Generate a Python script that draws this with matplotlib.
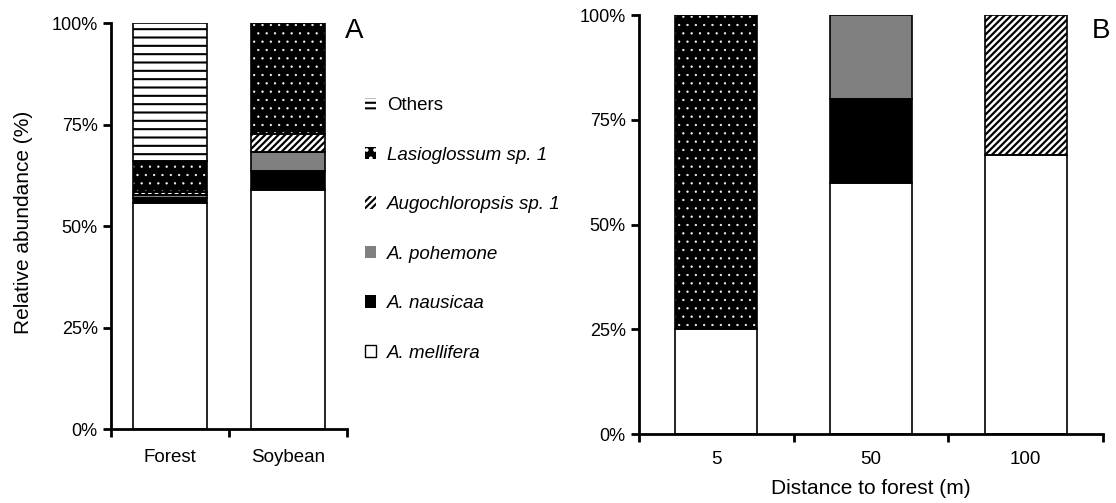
import matplotlib
matplotlib.use("Agg")
import matplotlib.pyplot as plt
import numpy as np
from matplotlib.patches import Patch
from matplotlib.ticker import FixedLocator, PercentFormatter

plt.rcParams['font.family'] = ['Liberation Sans', 'DejaVu Sans']
plt.rcParams['hatch.linewidth'] = 1.5

# species, bottom -> top
species = ['A. mellifera', 'A. nausicaa', 'A. pohemone',
           'Augochloropsis sp. 1', 'Lasioglossum sp. 1', 'Others']

# panel A: habitat
habitats = ['Forest', 'Soybean']
habitat_vals = {
    'A. mellifera':         [55.8, 58.8],
    'A. nausicaa':          [1.0, 4.7],
    'A. pohemone':          [0.8, 4.7],
    'Augochloropsis sp. 1': [0.8, 4.4],
    'Lasioglossum sp. 1':   [7.6, 27.4],
    'Others':               [34.0, 0.0],
}

# panel B: distance to forest
distances = ['5', '50', '100']
distance_vals = {
    'A. mellifera':         [25.0, 60.0, 66.7],
    'A. nausicaa':          [0.0, 20.0, 0.0],
    'A. pohemone':          [0.0, 20.0, 0.0],
    'Augochloropsis sp. 1': [0.0, 0.0, 33.3],
    'Lasioglossum sp. 1':   [75.0, 0.0, 0.0],
    'Others':               [0.0, 0.0, 0.0],
}

# fill style per species: facecolor, hatch colour, hatch, hatch width
styles = {
    'A. mellifera':         ('white', 'black', None, 1.0),
    'A. nausicaa':          ('black', 'black', None, 1.0),
    'A. pohemone':          ('#808080', '#808080', None, 1.0),
    'Augochloropsis sp. 1': ('white', 'black', '/////', 1.6),
    'Lasioglossum sp. 1':   ('black', 'white', '..', 0.4),
    'Others':               ('white', 'black', '--', 1.5),
}


def stacked(ax, cats, vals, width):
    x = np.arange(len(cats))
    bottom = np.zeros(len(cats))
    for sp in species:
        v = np.array(vals[sp])
        fc, hc, h, hw = styles[sp]
        m = v > 0
        with plt.rc_context({'hatch.linewidth': hw}):
            ax.bar(x[m], v[m], width, bottom=bottom[m], color=fc,
                   edgecolor=hc, hatch=h, linewidth=0, zorder=2)
        ax.bar(x[m], v[m], width, bottom=bottom[m], facecolor='none',
               edgecolor='black', linewidth=1.2, zorder=3)
        bottom += v
    ax.set_xlim(-0.5, len(cats) - 0.5)
    ax.set_ylim(0, 100)
    ax.xaxis.set_major_locator(FixedLocator(np.arange(len(cats) + 1) - 0.5))
    ax.xaxis.set_major_formatter(plt.NullFormatter())
    ax.xaxis.set_minor_locator(FixedLocator(x))
    ax.set_xticklabels(cats, minor=True)
    ax.tick_params(axis='x', which='minor', length=0, pad=14, labelsize=13.5)
    ax.tick_params(axis='x', which='major', length=6, width=2)
    ax.set_yticks([0, 25, 50, 75, 100])
    ax.yaxis.set_major_formatter(PercentFormatter(decimals=0))
    ax.tick_params(axis='y', length=6, width=2, labelsize=13)
    for s in ['top', 'right']:
        ax.spines[s].set_visible(False)
    for s in ['left', 'bottom']:
        ax.spines[s].set_linewidth(2)


fig = plt.figure(figsize=(11.16, 5.03), dpi=100)
axA = fig.add_axes([0.0995, 0.147, 0.2115, 0.807])
axB = fig.add_axes([0.5726, 0.137, 0.4158, 0.833])

stacked(axA, habitats, habitat_vals, 0.62)
stacked(axB, distances, distance_vals, 0.53)
axB.tick_params(axis='x', which='minor', pad=12)

axA.set_ylabel('Relative abundance (%)', fontsize=15)
axA.yaxis.set_label_coords(-0.33, 0.51)
axB.set_xlabel('Distance to forest (m)', fontsize=15, labelpad=8)

fig.text(0.309, 0.925, 'A', fontsize=20)
fig.text(0.978, 0.925, 'B', fontsize=20)

handles = []
for sp in reversed(species):
    fc, hc, h, hw = styles[sp]
    if sp == 'Others':
        h = '---'
    with plt.rc_context({'hatch.linewidth': hw}):
        if sp == 'A. mellifera':
            handles.append(Patch(facecolor=fc, edgecolor='black', linewidth=1.0))
        else:
            handles.append(Patch(facecolor=fc, edgecolor=hc, hatch=h, linewidth=0))
labels = list(reversed(species))
leg = fig.legend(handles, labels, loc='upper left', bbox_to_anchor=(0.312, 0.84),
                 frameon=False, fontsize=13.5, handlelength=0.6, handleheight=0.65,
                 labelspacing=1.73, handletextpad=0.55)
for t in leg.get_texts():
    if t.get_text() != 'Others':
        t.set_fontstyle('italic')

fig.savefig('out.png', dpi=100)
